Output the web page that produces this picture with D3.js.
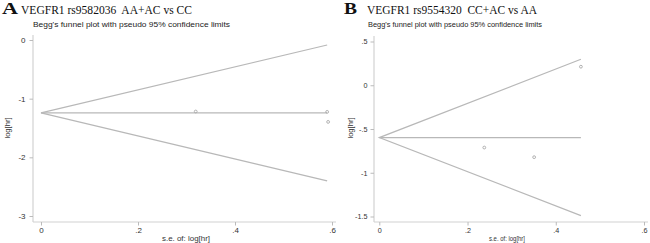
<!DOCTYPE html>
<html>
<head>
<meta charset="utf-8">
<script src="https://cdn.jsdelivr.net/npm/d3@7"></script>
<style>
  html, body { margin: 0; padding: 0; background: #fff; }
  svg { display: block; }
</style>
</head>
<body>
<div id="container"></div>
<script>
const width = 650, height = 243;

// Panel A: VEGFR1 rs9582036 AA+AC vs CC
const seA = [0.319, 0.590, 0.592];
const logA = [-1.219, -1.225, -1.396];
const pooledA = -1.243;
const seMaxA = 0.59;
const upperEndA = -0.085;
const lowerEndA = -2.40;
const yTicksA = [0, -1, -2, -3];
const xTicksA = [0, 0.2, 0.4, 0.6];

// Panel B: VEGFR1 rs9554320 CC+AC vs AA
const seB = [0.457, 0.238, 0.351];
const logB = [0.212, -0.712, -0.822];
const pooledB = -0.598;
const seMaxB = 0.457;
const upperEndB = 0.297;
const lowerEndB = -1.49;
const yTicksB = [0.5, 0, -0.5, -1, -1.5];
const xTicksB = [0, 0.2, 0.4, 0.6];

const svg = d3.select("#container").append("svg")
  .attr("width", width).attr("height", height);

const axisCol = "#d2d2d2";
const lineCol = "#b8b8b8";
const txtCol = "#333";
const sans = "Arial, 'Liberation Sans', sans-serif";
const serif = "'Times New Roman', 'Liberation Serif', serif";

// Stata style labels: 0, .2, -.5, -1.5 (plain hyphen minus)
const fmt = v => String(+v.toFixed(2)).replace(/^(-?)0\./, "$1.");

function drawPanel(p) {
  const g = svg.append("g");
  const x = d3.scaleLinear().domain([0, 0.6]).range(p.xRange);
  const y = d3.scaleLinear().domain(p.yDomain).range(p.yRange);

  // letter + title
  g.append("text").attr("x", p.letterX).attr("y", 14)
    .attr("font-family", serif).attr("font-weight", "bold")
    .attr("font-size", 16).attr("fill", "#111")
    .attr("textLength", p.letterW).attr("lengthAdjust", "spacingAndGlyphs")
    .text(p.letter);
  g.append("text").attr("x", p.titleX).attr("y", 13.5)
    .attr("font-family", serif).attr("font-size", 12.5)
    .attr("fill", "#111").attr("xml:space", "preserve")
    .attr("textLength", p.titleW).attr("lengthAdjust", "spacingAndGlyphs")
    .text(p.title);
  g.append("text").attr("x", p.subX).attr("y", 27)
    .attr("font-family", sans).attr("font-size", 7.8)
    .attr("fill", "#222")
    .attr("textLength", p.subW).attr("lengthAdjust", "spacingAndGlyphs")
    .text("Begg's funnel plot with pseudo 95% confidence limits");

  // axis lines
  g.append("line").attr("x1", p.axisX).attr("x2", p.axisX)
    .attr("y1", p.axisTop).attr("y2", p.axisY)
    .attr("stroke", axisCol).attr("stroke-width", 1.2);
  g.append("line").attr("x1", p.axisX).attr("x2", p.axisRight)
    .attr("y1", p.axisY).attr("y2", p.axisY)
    .attr("stroke", axisCol).attr("stroke-width", 1.2);

  // y axis
  const ya = g.append("g").attr("transform", `translate(${p.axisX},0)`)
    .call(d3.axisLeft(y).tickValues(p.yTicks).tickSize(3.5).tickPadding(p.yPad).tickFormat(fmt));
  ya.select(".domain").remove();
  ya.selectAll("line").attr("stroke", "#bbb");
  ya.selectAll("text").attr("font-family", sans).attr("font-size", p.tickFs).attr("fill", txtCol);

  // x axis
  const xa = g.append("g").attr("transform", `translate(0,${p.axisY})`)
    .call(d3.axisBottom(x).tickValues(p.xTicks).tickSize(3.5).tickPadding(2).tickFormat(fmt));
  xa.select(".domain").remove();
  xa.selectAll("line").attr("stroke", "#bbb");
  xa.selectAll("text").attr("font-family", sans).attr("font-size", p.tickFs).attr("fill", txtCol);

  // axis titles
  g.append("text")
    .attr("transform", `translate(${p.yTitleX},128) rotate(-90)`)
    .attr("text-anchor", "middle").attr("font-family", sans).attr("font-size", 7.6)
    .attr("fill", txtCol).text("log[hr]");
  g.append("text").attr("x", p.xTitleX).attr("y", 241)
    .attr("text-anchor", "middle").attr("font-family", sans).attr("font-size", 7.6)
    .attr("fill", txtCol)
    .attr("textLength", p.xTitleW).attr("lengthAdjust", "spacingAndGlyphs")
    .text("s.e. of: log[hr]");

  // funnel: pseudo 95% limits and pooled estimate
  const line = d3.line().x(d => x(d[0])).y(d => y(d[1]));
  g.append("path").datum([[p.seMax, p.upper], [0, p.pooled], [p.seMax, p.lower]])
    .attr("d", line).attr("fill", "none").attr("stroke", lineCol).attr("stroke-width", 1.2);
  g.append("path").datum([[0, p.pooled], [p.seMax, p.pooled]])
    .attr("d", line).attr("fill", "none").attr("stroke", lineCol).attr("stroke-width", 1.2);

  // study points
  g.selectAll("circle.pt").data(d3.zip(p.se, p.log)).join("circle")
    .attr("cx", d => x(d[0])).attr("cy", d => y(d[1])).attr("r", 1.4)
    .attr("fill", "none").attr("stroke", "#a8a8a8").attr("stroke-width", 0.9);
}

drawPanel({
  letter: "A", letterX: 2, letterW: 16, titleX: 21, titleW: 171,
  title: "VEGFR1 rs9582036  AA+AC vs CC", subX: 33, subW: 197,
  xRange: [41, 332], yDomain: [0, -3], yRange: [40, 216],
  axisX: 33, axisTop: 35, axisY: 222, axisRight: 336, yTitleX: 10,
  xTitleX: 186, xTitleW: 48, tickFs: 8, yPad: 4,
  yTicks: yTicksA, xTicks: xTicksA,
  se: seA, log: logA, pooled: pooledA, seMax: seMaxA, upper: upperEndA, lower: lowerEndA
});

drawPanel({
  letter: "B", letterX: 344, letterW: 13, titleX: 367, titleW: 170,
  title: "VEGFR1 rs9554320  CC+AC vs AA", subX: 368, subW: 174,
  xRange: [379.3, 644], yDomain: [0.5, -1.5], yRange: [41.5, 216.5],
  axisX: 374, axisTop: 36, axisY: 222, axisRight: 648, yTitleX: 353,
  xTitleX: 507, xTitleW: 36, tickFs: 7.2, yPad: 3,
  yTicks: yTicksB, xTicks: xTicksB,
  se: seB, log: logB, pooled: pooledB, seMax: seMaxB, upper: upperEndB, lower: lowerEndB
});
</script>
</body>
</html>
